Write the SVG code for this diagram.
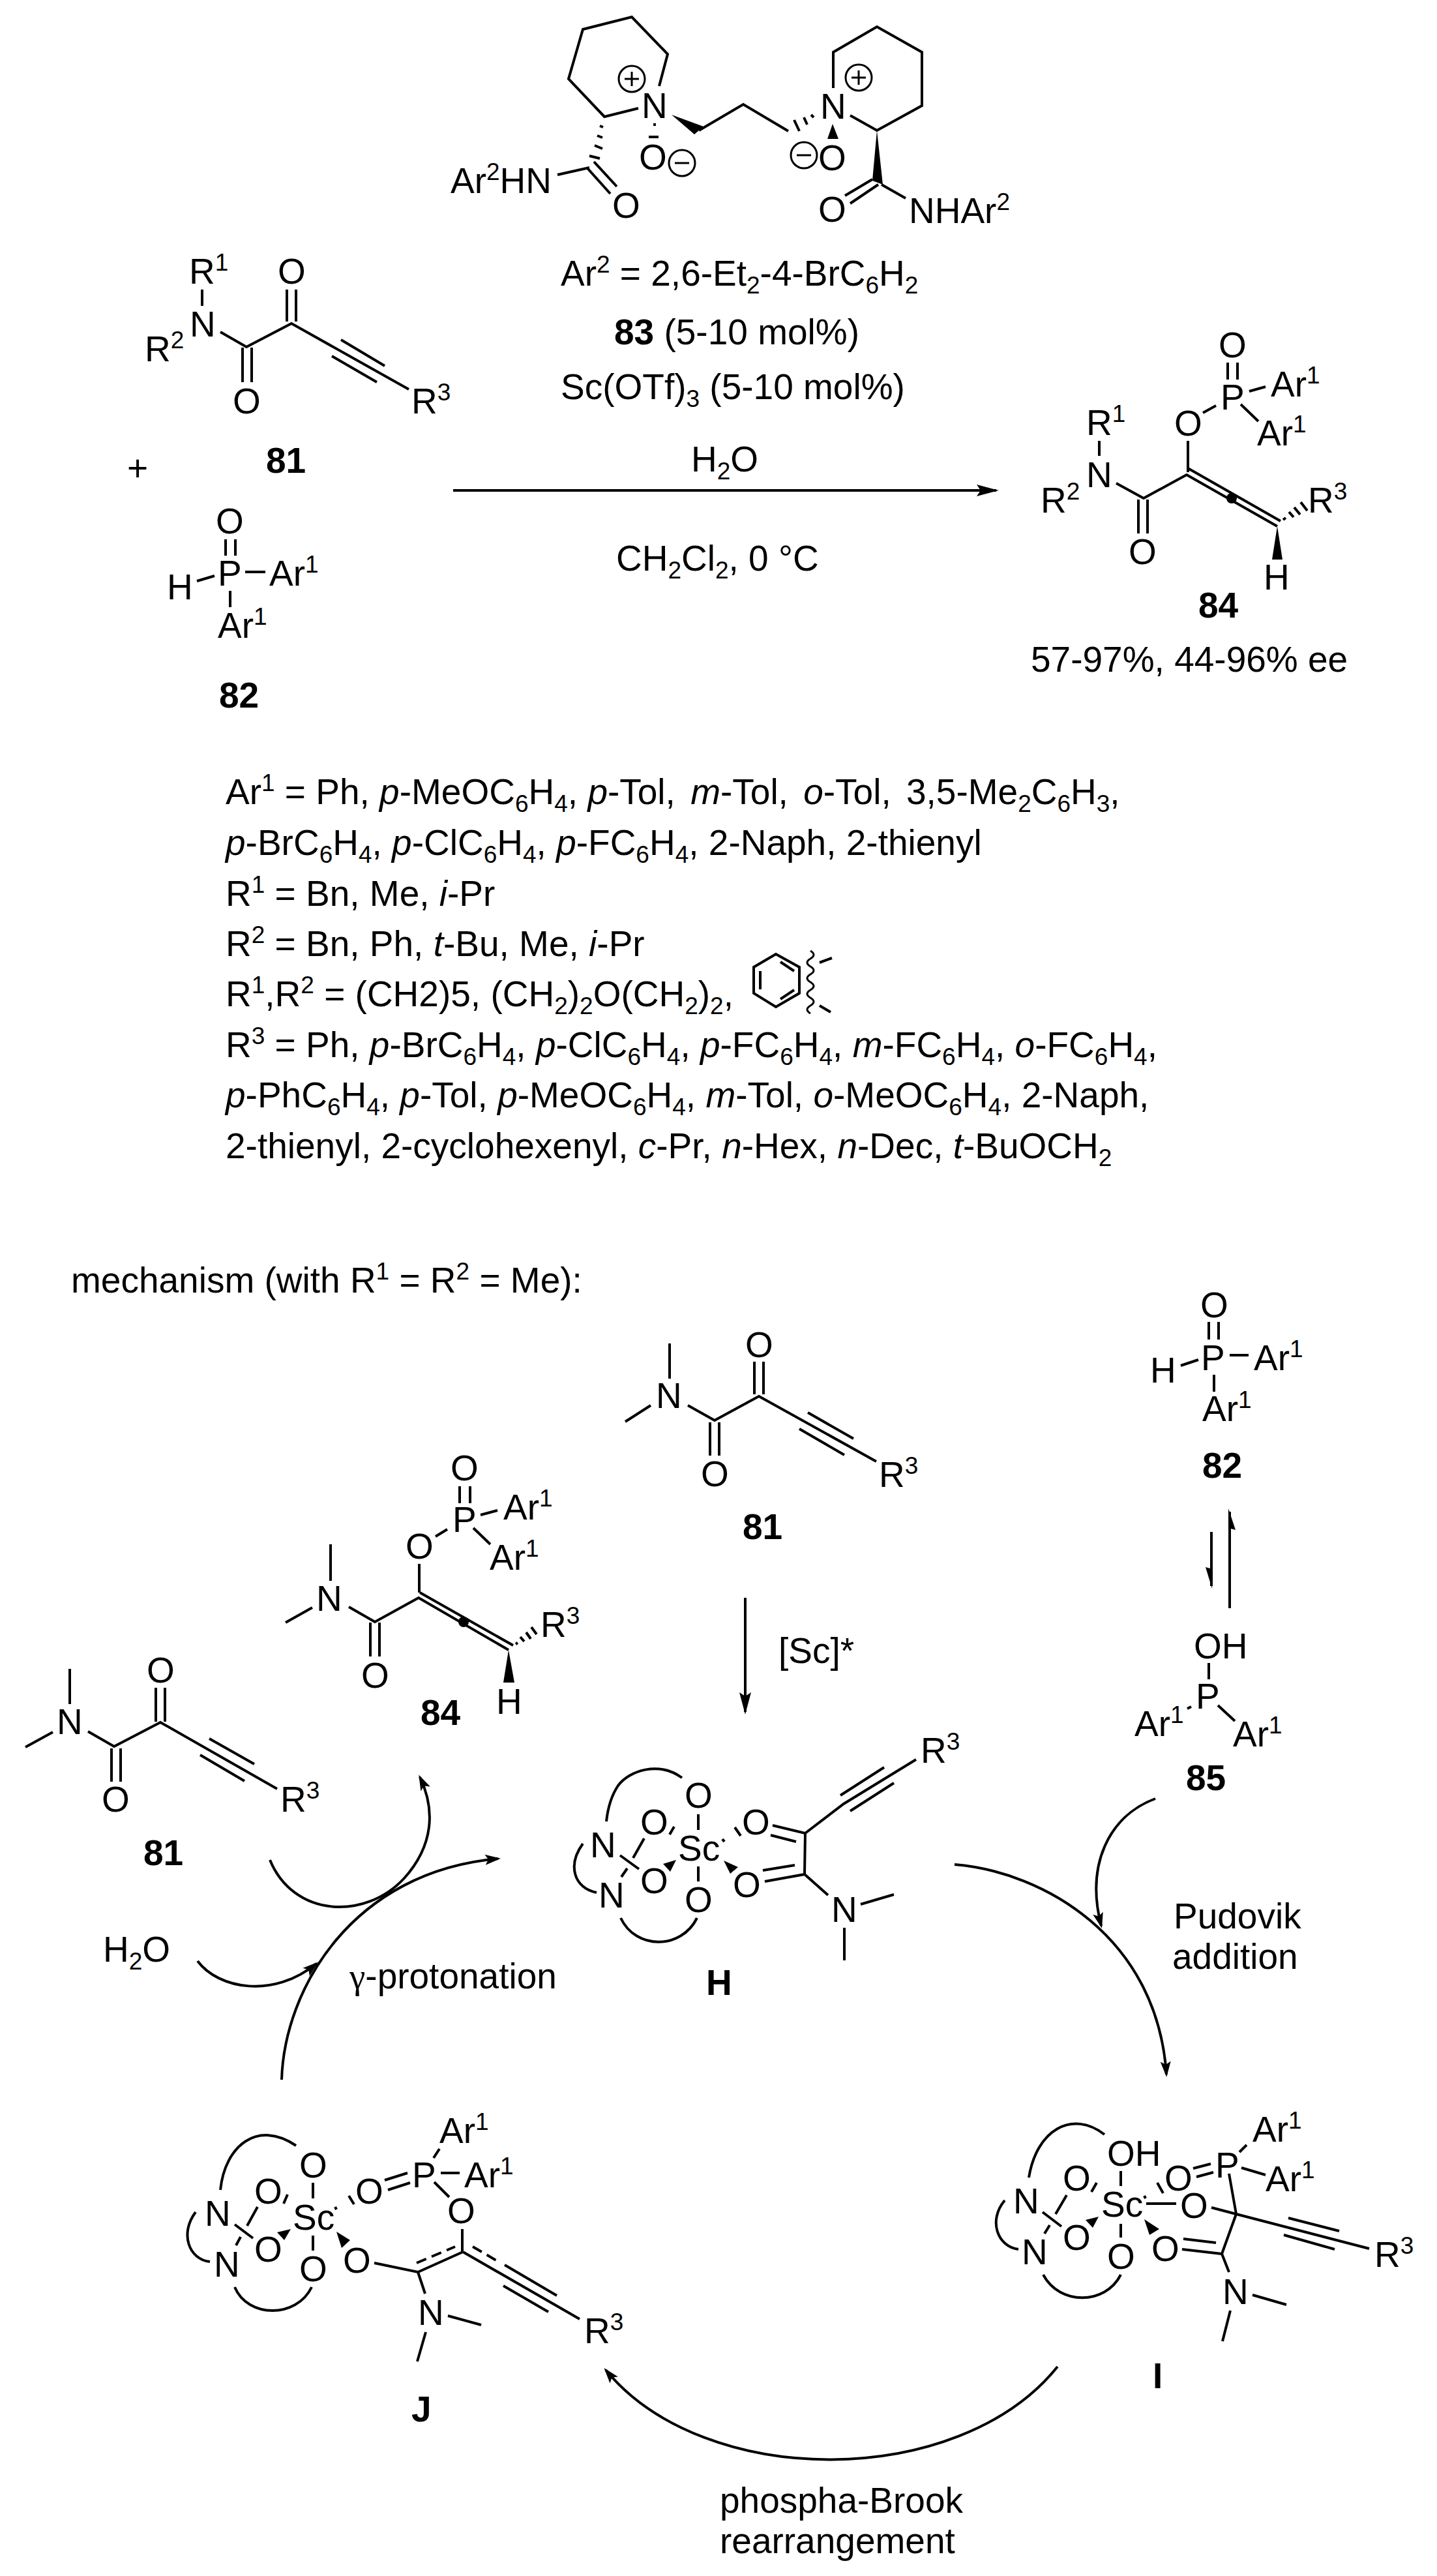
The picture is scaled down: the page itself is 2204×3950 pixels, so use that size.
<svg xmlns="http://www.w3.org/2000/svg" width="2204" height="3950" viewBox="0 0 2204 3950">
<style>
.b{stroke:#000;stroke-width:4;fill:none}
.c{stroke:#000;stroke-width:3;fill:none}
.w{fill:#000;stroke:none}
text{font-family:"Liberation Sans",Arial,sans-serif;font-size:55px;fill:#000}
.bd{font-weight:700}
.s{font-size:37px}
.i{font-style:italic}
.g{font-family:"Liberation Serif","Times New Roman",serif}
</style>
<defs>
<marker id="ah" markerUnits="userSpaceOnUse" viewBox="0 -10 36 20" refX="30" refY="0" markerWidth="36" markerHeight="20" orient="auto"><path d="M0 -9 L6 0 L0 9 L34 0 Z" fill="#000"/></marker>
<marker id="ac" markerUnits="userSpaceOnUse" viewBox="0 -10 28 20" refX="20" refY="0" markerWidth="28" markerHeight="20" orient="auto"><path d="M0 -8 L5 0 L0 8 L24 0 Z" fill="#000"/></marker>
</defs>
<rect width="2204" height="3950" fill="#fff"/>

<g id="ligand-83">
<path class="b" d="M979 166L927 179L872 121L894 45L969 26L1024 83L1011 132M855 268L904 257M901 258L936 297M911 248L946 286M1072 200L1140 160L1209 201M1278 135L1278 80L1345 41L1414 80L1414 162L1345 200L1304 177M1352 283L1389 304M1347 283L1304 312M1338 275L1296 300"/>
<path class="b" d="M920 193L925 195M916 208L924 211M912 223L924 228M904 239L920 243M1002 191L1006 191M995 210L1010 210M1244 176L1248 180M1233 180L1238 191M1218 184L1226 201"/>
<path class="w" d="M1030 176L1079 194L1065 206ZM1277 190L1269 213L1286 213ZM1345 200L1338 277L1354 283Z"/>
<circle class="c" cx="969" cy="121" r="20"/><path class="c" d="M958 121H980M969 110V132"/>
<circle class="c" cx="1046" cy="250" r="20"/><path class="c" d="M1035 250H1057"/>
<circle class="c" cx="1317" cy="119" r="20"/><path class="c" d="M1306 119H1328M1317 108V130"/>
<circle class="c" cx="1233" cy="238" r="20"/><path class="c" d="M1222 238H1244"/>
<text x="691" y="296">Ar<tspan class="s" dy="-20">2</tspan><tspan dy="20">HN</tspan></text>
<text x="984" y="181">N</text><text x="980" y="260">O</text><text x="939" y="334">O</text>
<text x="1258" y="182">N</text><text x="1255" y="261">O</text><text x="1255" y="340">O</text>
<text x="1394" y="342">NHAr<tspan class="s" dy="-20">2</tspan></text>
</g>

<g id="catalyst-text">
<text x="860" y="438">Ar<tspan class="s" dy="-20">2</tspan><tspan dy="20"> = 2,6-Et</tspan><tspan class="s" dy="12">2</tspan><tspan dy="-12">-4-BrC</tspan><tspan class="s" dy="12">6</tspan><tspan dy="-12">H</tspan><tspan class="s" dy="12">2</tspan></text>
<text x="942" y="528"><tspan class="bd">83</tspan> (5-10 mol%)</text>
<text x="860" y="612">Sc(OTf)<tspan class="s" dy="12">3</tspan><tspan dy="-12"> (5-10 mol%)</tspan></text>
<text x="1060" y="723">H<tspan class="s" dy="12">2</tspan><tspan dy="-12">O</tspan></text>
<text x="945" y="875">CH<tspan class="s" dy="12">2</tspan><tspan dy="-12">Cl</tspan><tspan class="s" dy="12">2</tspan><tspan dy="-12">, 0 °C</tspan></text>
</g>

<g id="compound-81-top">
<path class="b" d="M310 444V469M338 509L378 532L447 496L627 597M440 444V493M454 444V493M372 533V586M386 533V586M523 521L590 561M509 546L578 586"/>
<text x="290" y="435">R<tspan class="s" dy="-20">1</tspan></text>
<text x="291" y="516">N</text>
<text x="222" y="554">R<tspan class="s" dy="-20">2</tspan></text>
<text x="426" y="435">O</text><text x="357" y="634">O</text>
<text x="631" y="634">R<tspan class="s" dy="-20">3</tspan></text>
<text class="bd" x="408" y="725">81</text>
</g>
<g id="plus"><text x="195" y="737">+</text></g>
<g id="compound-82-top">
<path class="b" d="M346 827V852M361 827V852M376 877H407M302 891L329 883M353 906V931"/>
<text x="331" y="818">O</text><text x="334" y="898">P</text><text x="413" y="898">Ar<tspan class="s" dy="-20">1</tspan></text>
<text x="256" y="919">H</text><text x="334" y="978">Ar<tspan class="s" dy="-20">1</tspan></text>
<text class="bd" x="336" y="1085">82</text>
</g>
<g id="compound-84-top">
<path class="b" d="M1883 556V582M1898 556V582M1916 600L1941 593M1903 620L1930 646M1845 633L1865 622M1822 676V724M1686 676V699M1712 741L1754 764L1820 728L1959 807M1822 718L1964 799M1746 766V818M1760 766V818M1968 797L1972 794M1977 785L1984 793M1985 778L1994 789M1995 770L2005 783" />
<circle class="w" cx="1889" cy="764" r="8"/>
<path class="w" d="M1959 807L1951 858H1967Z"/>
<text x="1869" y="548">O</text><text x="1872" y="628">P</text>
<text x="1949" y="608">Ar<tspan class="s" dy="-20">1</tspan></text>
<text x="1928" y="683">Ar<tspan class="s" dy="-20">1</tspan></text>
<text x="1801" y="668">O</text>
<text x="1666" y="667">R<tspan class="s" dy="-20">1</tspan></text>
<text x="1666" y="747">N</text>
<text x="1596" y="786">R<tspan class="s" dy="-20">2</tspan></text>
<text x="1731" y="865">O</text>
<text x="2006" y="786">R<tspan class="s" dy="-20">3</tspan></text>
<text x="1938" y="904">H</text>
<text class="bd" x="1838" y="947">84</text>
<text x="1581" y="1030">57-97%, 44-96% ee</text>
</g>

<g id="substituents">
<text x="346" y="1233">Ar<tspan class="s" dy="-20">1</tspan><tspan dy="20"> = Ph, </tspan><tspan class="i">p</tspan>-MeOC<tspan class="s" dy="12">6</tspan><tspan dy="-12">H</tspan><tspan class="s" dy="12">4</tspan><tspan dy="-12">, </tspan><tspan class="i">p</tspan>-Tol, <tspan class="i" dx="8">m</tspan>-Tol, <tspan class="i" dx="8">o</tspan>-Tol, <tspan dx="8">3,5-Me</tspan><tspan class="s" dy="12">2</tspan><tspan dy="-12">C</tspan><tspan class="s" dy="12">6</tspan><tspan dy="-12">H</tspan><tspan class="s" dy="12">3</tspan><tspan dy="-12">,</tspan></text>
<text x="346" y="1311"><tspan class="i">p</tspan>-BrC<tspan class="s" dy="12">6</tspan><tspan dy="-12">H</tspan><tspan class="s" dy="12">4</tspan><tspan dy="-12">, </tspan><tspan class="i">p</tspan>-ClC<tspan class="s" dy="12">6</tspan><tspan dy="-12">H</tspan><tspan class="s" dy="12">4</tspan><tspan dy="-12">, </tspan><tspan class="i">p</tspan>-FC<tspan class="s" dy="12">6</tspan><tspan dy="-12">H</tspan><tspan class="s" dy="12">4</tspan><tspan dy="-12">, 2-Naph, 2-thienyl</tspan></text>
<text x="346" y="1389">R<tspan class="s" dy="-20">1</tspan><tspan dy="20"> = Bn, Me, </tspan><tspan class="i">i</tspan>-Pr</text>
<text x="346" y="1466">R<tspan class="s" dy="-20">2</tspan><tspan dy="20"> = Bn, Ph, </tspan><tspan class="i">t</tspan>-Bu, Me, <tspan class="i">i</tspan>-Pr</text>
<text x="346" y="1543">R<tspan class="s" dy="-20">1</tspan><tspan dy="20">,R</tspan><tspan class="s" dy="-20">2</tspan><tspan dy="20"> = (CH2)5, (CH</tspan><tspan class="s" dy="12">2</tspan><tspan dy="-12">)</tspan><tspan class="s" dy="12">2</tspan><tspan dy="-12">O(CH</tspan><tspan class="s" dy="12">2</tspan><tspan dy="-12">)</tspan><tspan class="s" dy="12">2</tspan><tspan dy="-12">,</tspan></text>
<text x="346" y="1621">R<tspan class="s" dy="-20">3</tspan><tspan dy="20"> = Ph, </tspan><tspan class="i">p</tspan>-BrC<tspan class="s" dy="12">6</tspan><tspan dy="-12">H</tspan><tspan class="s" dy="12">4</tspan><tspan dy="-12">, </tspan><tspan class="i">p</tspan>-ClC<tspan class="s" dy="12">6</tspan><tspan dy="-12">H</tspan><tspan class="s" dy="12">4</tspan><tspan dy="-12">, </tspan><tspan class="i">p</tspan>-FC<tspan class="s" dy="12">6</tspan><tspan dy="-12">H</tspan><tspan class="s" dy="12">4</tspan><tspan dy="-12">, </tspan><tspan class="i">m</tspan>-FC<tspan class="s" dy="12">6</tspan><tspan dy="-12">H</tspan><tspan class="s" dy="12">4</tspan><tspan dy="-12">, </tspan><tspan class="i">o</tspan>-FC<tspan class="s" dy="12">6</tspan><tspan dy="-12">H</tspan><tspan class="s" dy="12">4</tspan><tspan dy="-12">,</tspan></text>
<text x="346" y="1698"><tspan class="i">p</tspan>-PhC<tspan class="s" dy="12">6</tspan><tspan dy="-12">H</tspan><tspan class="s" dy="12">4</tspan><tspan dy="-12">, </tspan><tspan class="i">p</tspan>-Tol, <tspan class="i">p</tspan>-MeOC<tspan class="s" dy="12">6</tspan><tspan dy="-12">H</tspan><tspan class="s" dy="12">4</tspan><tspan dy="-12">, </tspan><tspan class="i">m</tspan>-Tol, <tspan class="i">o</tspan>-MeOC<tspan class="s" dy="12">6</tspan><tspan dy="-12">H</tspan><tspan class="s" dy="12">4</tspan><tspan dy="-12">, 2-Naph,</tspan></text>
<text x="346" y="1776">2-thienyl, 2-cyclohexenyl, <tspan class="i">c</tspan>-Pr, <tspan class="i">n</tspan>-Hex, <tspan class="i">n</tspan>-Dec, <tspan class="i">t</tspan>-BuOCH<tspan class="s" dy="12">2</tspan></text>
<path class="b" d="M1190 1463L1226 1483V1523L1190 1544L1156 1523V1483ZM1197 1475L1218 1489M1166 1489V1517M1197 1532L1218 1518M1257 1476L1276 1469M1257 1542L1274 1552"/>
<path class="c" d="M1243 1458q10 6 0 12q-10 6 0 12q10 6 0 12q-10 6 0 12q10 6 0 12q-10 6 0 12q10 6 0 12q-10 6 0 12"/>
</g>

<g id="mechanism-title">
<text x="109" y="1982">mechanism (with R<tspan class="s" dy="-20">1</tspan><tspan dy="20"> = R</tspan><tspan class="s" dy="-20">2</tspan><tspan dy="20"> = Me):</tspan></text>
</g>

<g id="compound-81-center">
<path class="b" d="M1027 2060V2114M959 2180L998 2155M1055 2155L1096 2178L1164 2141L1344 2241M1157 2088V2138M1171 2088V2138M1089 2181V2232M1103 2181V2232M1239 2166L1309 2206M1226 2191L1295 2231"/>
<text x="1006" y="2159">N</text><text x="1143" y="2081">O</text><text x="1075" y="2279">O</text>
<text x="1348" y="2280">R<tspan class="s" dy="-20">3</tspan></text>
<text class="bd" x="1139" y="2360">81</text>
</g>
<g id="compound-84-mech">
<path class="b" d="M705 2279V2305M721 2279V2305M737 2323L763 2316M726 2343L752 2368M668 2356L686 2345M643 2398V2442M507 2368V2424M438 2488L479 2465M535 2464L575 2487L642 2450L780 2530M644 2442L787 2523M568 2488V2540M582 2488V2540M791 2521L794 2519M798 2510L804 2517M807 2503L814 2513M815 2495L823 2506"/>
<circle class="w" cx="711" cy="2487" r="8"/>
<path class="w" d="M780 2530L772 2580H789Z"/>
<text x="691" y="2270">O</text><text x="694" y="2349">P</text>
<text x="772" y="2330">Ar<tspan class="s" dy="-20">1</tspan></text>
<text x="751" y="2407">Ar<tspan class="s" dy="-20">1</tspan></text>
<text x="622" y="2390">O</text><text x="485" y="2470">N</text><text x="554" y="2588">O</text>
<text x="829" y="2510">R<tspan class="s" dy="-20">3</tspan></text>
<text x="761" y="2628">H</text>
<text class="bd" x="645" y="2645">84</text>
</g>
<g id="compound-81-left">
<path class="b" d="M107 2559V2613M39 2679L81 2656M135 2655L175 2678L246 2641L425 2743M239 2588V2640M253 2588V2640M171 2681V2732M185 2681V2732M321 2666L390 2705M307 2691L375 2731"/>
<text x="87" y="2659">N</text><text x="225" y="2580">O</text><text x="156" y="2778">O</text>
<text x="430" y="2778">R<tspan class="s" dy="-20">3</tspan></text>
<text class="bd" x="220" y="2860">81</text>
</g>
<g id="water"><text x="158" y="3008">H<tspan class="s" dy="12">2</tspan><tspan dy="-12">O</tspan></text></g>

<g id="compound-82-mech">
<path class="b" d="M1854 2027V2054M1869 2027V2054M1886 2078H1915M1811 2094L1838 2085M1862 2108V2134"/>
<text x="1841" y="2020">O</text><text x="1842" y="2101">P</text>
<text x="1923" y="2101">Ar<tspan class="s" dy="-20">1</tspan></text>
<text x="1764" y="2120">H</text>
<text x="1844" y="2179">Ar<tspan class="s" dy="-20">1</tspan></text>
<text class="bd" x="1844" y="2266">82</text>
</g>
<g id="compound-85">
<path class="b" d="M1854 2550V2575M1821 2620L1827 2617M1868 2615L1894 2639"/>
<text x="1831" y="2543">OH</text><text x="1834" y="2620">P</text>
<text x="1740" y="2662">Ar<tspan class="s" dy="-20">1</tspan></text>
<text x="1891" y="2678">Ar<tspan class="s" dy="-20">1</tspan></text>
<text class="bd" x="1819" y="2745">85</text>
</g>

<g id="complex-H">
<path class="b" d="M1071 2782V2806M1071 2862V2885M1027 2813L1034 2801M988 2819L971 2849M951 2845L980 2866M962 2865L953 2878M1127 2802L1136 2815M1108 2820L1111 2824M1185 2799L1235 2811L1234 2874L1173 2885M1182 2814L1221 2824M1219 2860L1170 2868M1234 2874L1270 2906M1320 2920L1371 2905M1295 2956V3006M1235 2811L1294 2766L1405 2698M1289 2753L1356 2710M1304 2777L1371 2734"/>
<path class="b" d="M930 2793C933 2765 940 2750 948 2738C965 2715 1010 2700 1046 2726M894 2827C870 2860 880 2895 915 2902M952 2941C975 2990 1045 2990 1069 2941"/>
<path class="w" d="M1037 2852L1017 2858L1028 2870ZM1110 2853L1132 2863L1120 2873Z"/>
<text x="1040" y="2853">Sc</text>
<text x="1050" y="2772">O</text><text x="1050" y="2932">O</text><text x="982" y="2813">O</text><text x="982" y="2903">O</text>
<text x="905" y="2848">N</text><text x="918" y="2925">N</text>
<text x="1138" y="2813">O</text><text x="1124" y="2909">O</text><text x="1275" y="2947">N</text>
<text x="1412" y="2703">R<tspan class="s" dy="-20">3</tspan></text>
<text class="bd" x="1083" y="3059">H</text>
</g>

<g id="complex-I">
<path class="b" d="M1719 3329V3352M1719 3410V3431M1674 3361L1682 3347M1636 3366L1619 3395M1599 3392L1628 3414M1610 3412L1602 3425M1775 3347L1784 3363M1755 3367L1757 3371M1830 3325L1857 3318M1835 3338L1861 3331M1901 3300L1912 3289M1904 3324L1941 3335M1885 3333L1896 3395M1758 3379H1804M1858 3385L1896 3395L2100 3448M1976 3401L2054 3421M1969 3427L2047 3449M1896 3395L1874 3456L1813 3449M1865 3439L1815 3433M1874 3456L1885 3484M1921 3519L1973 3534M1887 3543L1875 3590"/>
<path class="b" d="M1578 3339C1590 3265 1645 3235 1694 3273M1541 3374C1515 3405 1530 3445 1562 3449M1600 3488C1625 3535 1695 3535 1719 3488"/>
<path class="w" d="M1685 3399L1665 3404L1676 3416ZM1755 3403L1778 3418L1763 3427Z"/>
<text x="1689" y="3399">Sc</text>
<text x="1698" y="3321">OH</text><text x="1698" y="3479">O</text><text x="1630" y="3359">O</text><text x="1630" y="3450">O</text>
<text x="1554" y="3394">N</text><text x="1567" y="3472">N</text>
<text x="1786" y="3359">O</text><text x="1864" y="3339">P</text>
<text x="1921" y="3284">Ar<tspan class="s" dy="-20">1</tspan></text>
<text x="1941" y="3360">Ar<tspan class="s" dy="-20">1</tspan></text>
<text x="1810" y="3401">O</text><text x="1766" y="3467">O</text><text x="1875" y="3533">N</text>
<text x="2108" y="3476">R<tspan class="s" dy="-20">3</tspan></text>
<text class="bd" x="1768" y="3662">I</text>
</g>

<g id="complex-J">
<path class="b" d="M480 3347V3371M480 3428V3451M441 3365L435 3379M395 3384L379 3413M360 3411L388 3432M369 3430L362 3443M535 3367L543 3380M514 3384L516 3388M590 3343L625 3332M595 3358L629 3347M674 3295L665 3309M676 3332H705M666 3346L689 3369M709 3418V3452M710 3453L641 3484L574 3470M641 3484L652 3517M687 3551L738 3565M653 3576L640 3621M710 3453L889 3556M774 3473L854 3520M772 3505L841 3545"/>
<path class="b" stroke-dasharray="16 9" d="M639 3470L698 3445M725 3445L761 3466"/>
<path class="b" d="M338 3358C345 3290 395 3250 454 3290M300 3392C275 3425 290 3465 322 3468M360 3507C380 3555 455 3555 478 3507"/>
<path class="w" d="M446 3418L425 3423L436 3435ZM516 3422L537 3435L524 3447Z"/>
<text x="449" y="3419">Sc</text>
<text x="459" y="3339">O</text><text x="459" y="3498">O</text><text x="390" y="3379">O</text><text x="390" y="3468">O</text>
<text x="314" y="3413">N</text><text x="328" y="3491">N</text>
<text x="545" y="3379">O</text><text x="632" y="3354">P</text>
<text x="674" y="3286">Ar<tspan class="s" dy="-20">1</tspan></text>
<text x="712" y="3354">Ar<tspan class="s" dy="-20">1</tspan></text>
<text x="686" y="3409">O</text><text x="526" y="3485">O</text><text x="641" y="3565">N</text>
<text x="896" y="3593">R<tspan class="s" dy="-20">3</tspan></text>
<text class="bd" x="631" y="3713">J</text>
</g>

<g id="cycle-labels">
<text x="536" y="3049"><tspan class="g">γ</tspan>-protonation</text>
<text x="1800" y="2957">Pudovik</text>
<text x="1798" y="3019">addition</text>
<text x="1104" y="3853">phospha-Brook</text>
<text x="1104" y="3915">rearrangement</text>
<text x="1194" y="2550">[Sc]*</text>
</g>

<g id="connectors">
<path class="b" marker-end="url(#ah)" d="M695 752H1528"/>
<path class="b" marker-end="url(#ah)" d="M1143 2450V2625"/>
<path class="b" d="M1886 2466V2318M1858 2349V2432"/>
<path class="w" d="M1884 2313L1895 2346L1888 2344L1884 2344ZM1859 2436L1849 2403L1856 2405L1860 2405Z"/>
<path class="b" marker-end="url(#ac)" d="M1464 2859C1600 2870 1775 2970 1789 3181"/>
<path class="b" marker-end="url(#ac)" d="M1772 2758C1700 2785 1665 2860 1689 2953"/>
<path class="b" marker-end="url(#ac)" d="M1622 3629C1470 3818 1080 3818 929 3634"/>
<path class="b" marker-end="url(#ac)" d="M432 3189C436 3050 540 2870 764 2850"/>
<path class="b" marker-end="url(#ac)" d="M414 2852C450 2940 560 2945 620 2880C665 2830 668 2775 644 2725"/>
<path class="b" marker-end="url(#ac)" d="M303 3007C335 3050 420 3065 485 3011"/>
</g>
</svg>
